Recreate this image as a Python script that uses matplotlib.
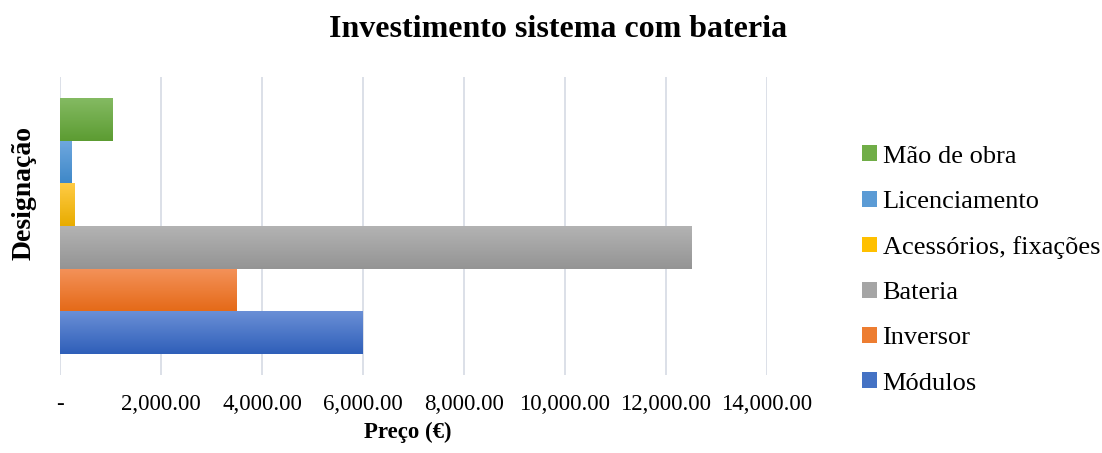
import matplotlib
matplotlib.use("Agg")
import matplotlib.pyplot as plt
import numpy as np
from matplotlib.patches import Patch
from matplotlib.ticker import FuncFormatter

categories = ["Módulos", "Inversor", "Bateria", "Acessórios, fixações", "Licenciamento", "Mão de obra"]
values = [6000, 3500, 12500, 280, 220, 1030]
colors_top = ["#6a8fd6", "#f4925a", "#b3b3b3", "#ffcb45", "#6fa8df", "#84ba62"]
colors_bot = ["#2f5fb9", "#e56a18", "#949494", "#e8ac00", "#3f88c8", "#5c9c32"]
colors_mid = ["#4472c4", "#ed7d31", "#a5a5a5", "#ffc000", "#5b9bd5", "#70ad47"]
xticks = [0, 2000, 4000, 6000, 8000, 10000, 12000, 14000]

plt.rcParams['font.family'] = ['Liberation Serif', 'DejaVu Serif']

W, H = 1102, 453
fig = plt.figure(figsize=(W/100, H/100), dpi=100)
ax = fig.add_axes([60/W, 1-375/H, (767-60)/W, (375-77)/H])

y = np.arange(len(categories))
bars = ax.barh(y, values, height=1.0, color="none", edgecolor="none", zorder=3)
for b, ct, cb in zip(bars, colors_top, colors_bot):
    x0, y0 = b.get_x(), b.get_y()
    w, h = b.get_width(), b.get_height()
    c1 = np.array(matplotlib.colors.to_rgb(ct))
    c2 = np.array(matplotlib.colors.to_rgb(cb))
    t = np.linspace(0, 1, 64)[:, None]
    grad = (c2[None, :] * (1 - t) + c1[None, :] * t)[:, None, :]
    ax.imshow(grad, extent=[x0, x0 + w, y0, y0 + h], origin="lower",
              aspect="auto", zorder=3, interpolation="bilinear")

ax.set_xlim(0, 14000)
ax.set_ylim(-0.5 - 0.49, len(categories) - 0.5 + 0.49)
ax.set_xticks(xticks)
ax.xaxis.set_major_formatter(FuncFormatter(lambda v, p: "-" if v == 0 else f"{v:,.2f}"))
ax.set_yticks([])
ax.grid(axis="x", color="#d9dde6", linewidth=1.3, zorder=0)
for s in ax.spines.values():
    s.set_visible(False)
ax.tick_params(axis="x", length=0, labelsize=16.5, pad=14)

fig.text(558/W, 1-37/H, "Investimento sistema com bateria", ha="center", va="baseline",
         fontsize=23, fontweight="bold")
fig.text(408/W, 1-432/H, "Preço (€)", ha="center", va="center", fontsize=16.5, fontweight="bold")
fig.text(24/W, 1-193/H, "Designação", ha="center", va="center", rotation=90,
         fontsize=20, fontweight="bold")

handles = [Patch(facecolor=c, edgecolor="none") for c in colors_mid]
leg = fig.legend(handles[::-1], categories[::-1], loc="center left",
                 bbox_to_anchor=(862/W, 1-270/H), frameon=False, fontsize=19,
                 handlelength=0.58, handleheight=0.55, handletextpad=0.2,
                 labelspacing=0.87, borderaxespad=0, borderpad=0)

fig.savefig("out.png", dpi=100)
